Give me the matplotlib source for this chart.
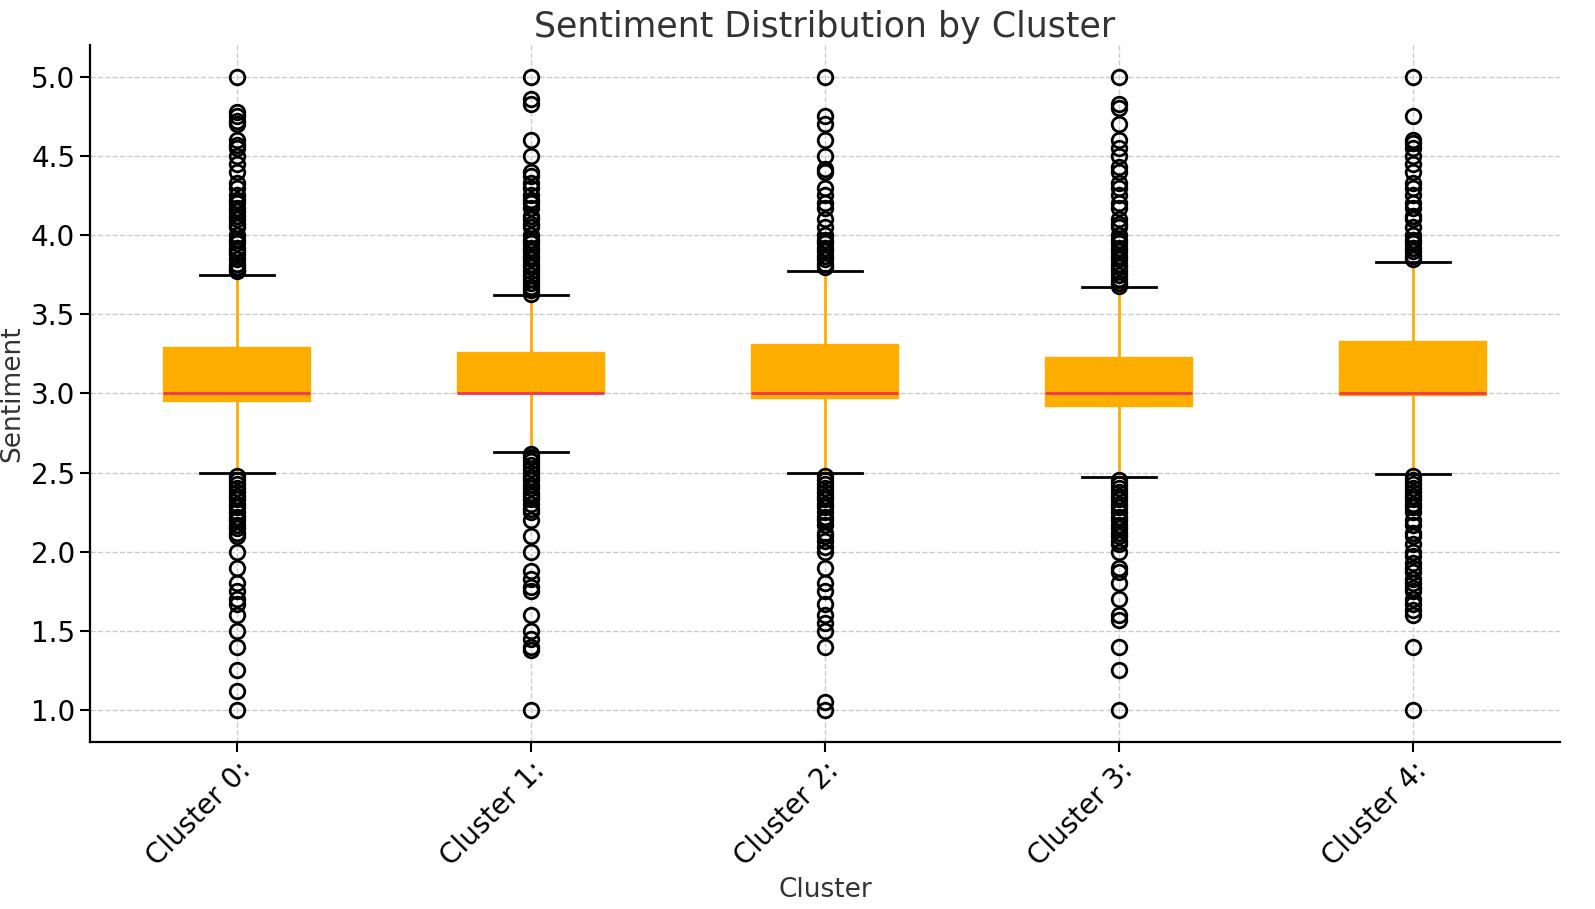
import matplotlib
matplotlib.use("Agg")
import matplotlib.pyplot as plt

clusters = ["Cluster 0:", "Cluster 1:", "Cluster 2:", "Cluster 3:", "Cluster 4:"]
q1 = [2.95, 3.00, 2.97, 2.92, 2.99]
med = [3.00, 3.00, 3.00, 3.00, 3.00]
q3 = [3.29, 3.26, 3.31, 3.23, 3.33]
whislo = [2.50, 2.63, 2.50, 2.47, 2.49]
whishi = [3.75, 3.62, 3.77, 3.67, 3.83]

fliers_0 = [5.0, 4.78, 4.75, 4.72, 4.70, 4.60, 4.57, 4.55, 4.50, 4.45, 4.40, 4.33, 4.30,
            4.25, 4.22, 4.20, 4.17, 4.15, 4.12, 4.10, 4.07, 4.05, 4.00, 3.97, 3.95, 3.92,
            3.90, 3.88, 3.85, 3.82, 3.80, 3.78, 3.77,
            2.48, 2.45, 2.43, 2.40, 2.38, 2.35, 2.33, 2.30, 2.28, 2.25, 2.22, 2.20, 2.17,
            2.15, 2.12, 2.10, 2.00, 1.90, 1.80, 1.75, 1.70, 1.67, 1.60, 1.50, 1.40, 1.25,
            1.12, 1.00]
fliers_1 = [5.0, 4.86, 4.83, 4.60, 4.50, 4.40, 4.37, 4.33, 4.30, 4.25, 4.22, 4.20, 4.17,
            4.12, 4.10, 4.07, 4.05, 4.00, 3.97, 3.95, 3.92, 3.90, 3.87, 3.85, 3.82, 3.80,
            3.77, 3.75, 3.72, 3.70, 3.67, 3.65, 3.63,
            2.62, 2.60, 2.57, 2.55, 2.52, 2.50, 2.47, 2.45, 2.42, 2.40, 2.37, 2.35, 2.33,
            2.30, 2.27, 2.25, 2.20, 2.10, 2.00, 1.88, 1.83, 1.78, 1.75, 1.60, 1.50, 1.45,
            1.40, 1.38, 1.00]
fliers_2 = [5.0, 4.75, 4.70, 4.60, 4.50, 4.42, 4.40, 4.30, 4.25, 4.20, 4.17, 4.10, 4.05,
            4.00, 3.97, 3.95, 3.92, 3.90, 3.87, 3.85, 3.82, 3.80,
            2.48, 2.45, 2.43, 2.40, 2.38, 2.35, 2.33, 2.30, 2.28, 2.25, 2.22, 2.20, 2.17,
            2.12, 2.10, 2.07, 2.03, 2.00, 1.90, 1.80, 1.75, 1.67, 1.60, 1.55, 1.50, 1.40,
            1.05, 1.00]
fliers_3 = [5.0, 4.83, 4.80, 4.70, 4.60, 4.55, 4.50, 4.43, 4.40, 4.33, 4.30, 4.25, 4.20,
            4.17, 4.10, 4.07, 4.05, 4.00, 3.97, 3.95, 3.92, 3.90, 3.87, 3.85, 3.82, 3.80,
            3.77, 3.75, 3.72, 3.70, 3.68,
            2.45, 2.43, 2.40, 2.38, 2.35, 2.33, 2.30, 2.28, 2.25, 2.22, 2.20, 2.17, 2.15,
            2.12, 2.10, 2.07, 2.05, 2.00, 1.90, 1.87, 1.80, 1.70, 1.60, 1.57, 1.40, 1.25,
            1.00]
fliers_4 = [5.0, 4.75, 4.60, 4.58, 4.55, 4.50, 4.45, 4.40, 4.33, 4.30, 4.25, 4.20, 4.17,
            4.12, 4.10, 4.05, 4.00, 3.97, 3.95, 3.92, 3.90, 3.87, 3.85,
            2.48, 2.45, 2.43, 2.40, 2.38, 2.35, 2.33, 2.30, 2.28, 2.25, 2.20, 2.17, 2.12,
            2.10, 2.05, 2.00, 1.97, 1.93, 1.90, 1.87, 1.83, 1.80, 1.77, 1.75, 1.70, 1.67,
            1.63, 1.60, 1.40, 1.00]
fliers = [fliers_0, fliers_1, fliers_2, fliers_3, fliers_4]

stats = []
for i in range(len(clusters)):
    stats.append({"label": clusters[i], "q1": q1[i], "med": med[i], "q3": q3[i],
                  "whislo": whislo[i], "whishi": whishi[i], "fliers": fliers[i]})

fig = plt.figure(figsize=(15.95, 9.09), dpi=100)
ax = fig.add_axes([0.0564, 0.184, 0.9216, 0.7665])

ax.bxp(stats, widths=0.5, patch_artist=True,
       boxprops=dict(facecolor="#FFAE00", edgecolor="#FFAE00", linewidth=1),
       medianprops=dict(color="#F0355A", linewidth=2),
       whiskerprops=dict(color="#FFAE00", linewidth=2),
       capprops=dict(color="black", linewidth=2),
       flierprops=dict(marker="o", markerfacecolor="none", markeredgecolor="black",
                       markersize=10.5, markeredgewidth=2))

ax.set_xlim(0.5, 5.5)
ax.set_ylim(0.8, 5.2)
ax.set_yticks([1.0, 1.5, 2.0, 2.5, 3.0, 3.5, 4.0, 4.5, 5.0])
ax.grid(True, linestyle="--", color="#cccccc", linewidth=1)
ax.set_axisbelow(True)
for s in ["top", "right"]:
    ax.spines[s].set_visible(False)
for s in ["left", "bottom"]:
    ax.spines[s].set_linewidth(1.6)

ax.tick_params(axis="both", labelsize=20, length=7, width=1.5, colors="black")
plt.setp(ax.get_xticklabels(), rotation=45, ha="right", rotation_mode="anchor")
ax.set_title("Sentiment Distribution by Cluster", fontsize=25, color="#333333", pad=6)
ax.set_xlabel("Cluster", fontsize=19, color="#333333", labelpad=4)
ax.set_ylabel("Sentiment", fontsize=19, color="#333333")

fig.savefig("out.png", dpi=100)
